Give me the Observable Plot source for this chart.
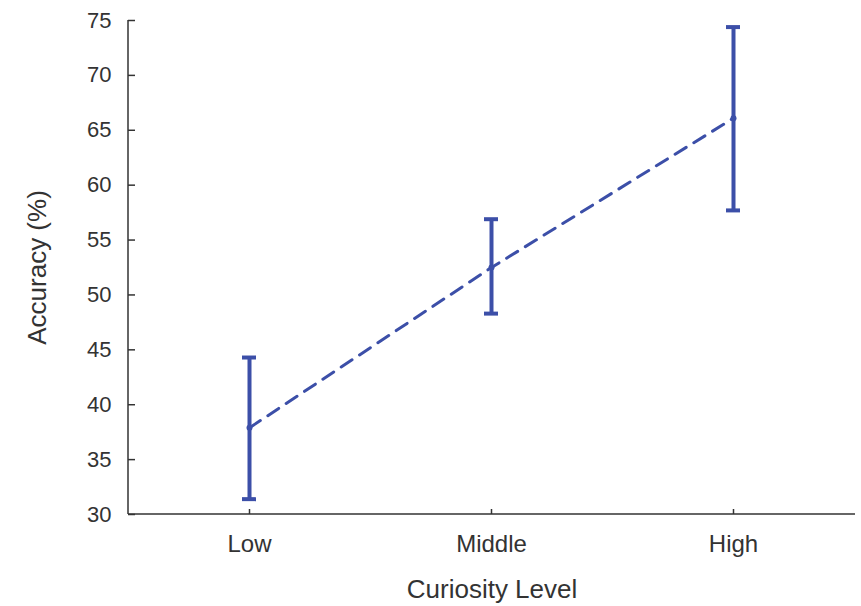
<!DOCTYPE html>
<html>
<head>
<meta charset="utf-8">
<script src="https://cdn.jsdelivr.net/npm/d3@7"></script>
<script src="https://cdn.jsdelivr.net/npm/@observablehq/plot@0.6"></script>
<style>
  html, body { margin: 0; padding: 0; background: #fff; }
  #chart svg { display: block; }
</style>
</head>
<body>
<div id="chart"></div>
<script>
const levels = ["Low", "Middle", "High"];
const means = [37.9, 52.5, 66.1];
const lows = [31.4, 48.3, 57.7];
const highs = [44.3, 56.9, 74.4];
const yTicks = [30, 35, 40, 45, 50, 55, 60, 65, 70, 75];
const xTitle = "Curiosity Level";
const yTitle = "Accuracy (%)";

const data = levels.map((level, i) => ({level, mean: means[i], lo: lows[i], hi: highs[i]}));

const blue = "#3c4fa8";
const ink = "#333333";
const font = "Liberation Sans, Arial, sans-serif";

const leftLine = (index, scales, values, dim) => {
  const x = dim.marginLeft;
  return d3.create("svg:line")
    .attr("x1", x).attr("x2", x)
    .attr("y1", dim.marginTop).attr("y2", dim.height - dim.marginBottom)
    .attr("stroke", ink).attr("stroke-width", 1.5).node();
};
const bottomLine = (index, scales, values, dim) => {
  const y = dim.height - dim.marginBottom;
  return d3.create("svg:line")
    .attr("x1", dim.marginLeft).attr("x2", dim.width - dim.marginRight)
    .attr("y1", y).attr("y2", y)
    .attr("stroke", ink).attr("stroke-width", 1.5).node();
};

const chart = Plot.plot({
  width: 861,
  height: 606,
  marginLeft: 128,
  marginRight: 6,
  marginTop: 20,
  marginBottom: 92,
  style: {fontFamily: font, color: ink, background: "#fff"},
  x: {type: "band", domain: levels, paddingInner: 0.942, paddingOuter: 0.471},
  y: {domain: [30, 75]},
  marks: [
    leftLine,
    bottomLine,
    Plot.axisY({ticks: yTicks, tickSize: -7, tickPadding: 24, fontSize: 22, label: null, stroke: ink, strokeWidth: 1.5}),
    Plot.axisX({tickSize: -5, tickPadding: 25, fontSize: 24, label: null, stroke: ink, strokeWidth: 1.5}),
    Plot.axisY({ticks: [], label: yTitle, labelAnchor: "center", labelArrow: "none", labelOffset: 101, fontSize: 26}),
    Plot.axisX({ticks: [], label: xTitle, labelAnchor: "center", labelArrow: "none", labelOffset: 83, fontSize: 26}),
    Plot.lineY(data, {x: "level", y: "mean", stroke: blue, strokeWidth: 3, strokeDasharray: "13,9"}),
    Plot.ruleX(data, {x: "level", y1: "lo", y2: "hi", stroke: blue, strokeWidth: 4}),
    Plot.tickY(data, {x: "level", y: "hi", stroke: blue, strokeWidth: 4}),
    Plot.tickY(data, {x: "level", y: "lo", stroke: blue, strokeWidth: 4}),
    Plot.dot(data, {x: "level", y: "mean", r: 3, fill: blue, stroke: null})
  ]
});
document.getElementById("chart").append(chart);
</script>
</body>
</html>
